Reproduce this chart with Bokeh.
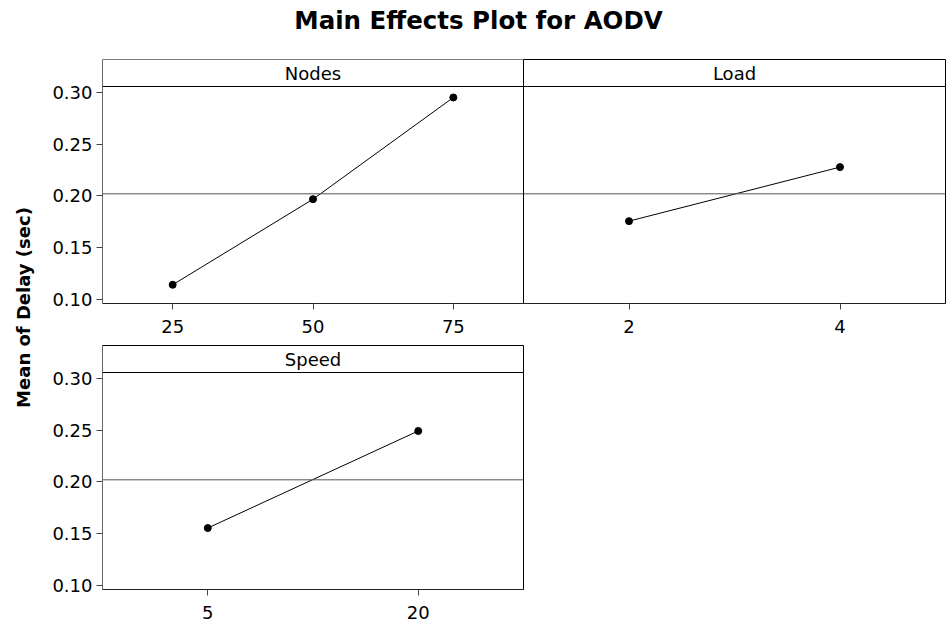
import math
from bokeh.plotting import figure
from bokeh.models import Range1d, FactorRange, Span, Label, FixedTicker, PrintfTickFormatter, ColumnDataSource
from bokeh.layouts import column, row
from bokeh.embed import file_html
from bokeh.resources import INLINE
from bokeh.core.validation import silence
from bokeh.core.validation.warnings import MISSING_RENDERERS

silence(MISSING_RENDERERS, True)

# ---------------- data ----------------
TITLE = "Main Effects Plot for AODV"
Y_LABEL = "Mean of Delay (sec)"
nodes_levels = ["25", "50", "75"]
nodes_means = [0.1142, 0.1969, 0.2952]
load_levels = ["2", "4"]
load_means = [0.1757, 0.2279]
speed_levels = ["5", "20"]
speed_means = [0.1555, 0.2493]
grand_mean = 0.2021
y_ticks = [0.10, 0.15, 0.20, 0.25, 0.30]

# ---------------- styling / geometry ----------------
FONT = "DejaVu Sans"
Y0, Y1, Y_HEAD = 0.0961, 0.3319, 0.3058
FRAME_H = 244
LEFT_W = 38          # width of the y-label strip
TITLE_H = 57
TOP_B, BOT_B1, BOT_B2 = 2, 40, 37


def panel(name, levels, means, width, mbl, mbr, mbb, show_y, outline=True):
    p = figure(x_range=FactorRange(factors=levels), y_range=Range1d(Y0, Y1),
               width=width, height=TOP_B + FRAME_H + mbb,
               output_backend="svg", toolbar_location=None,
               min_border_left=mbl, min_border_right=mbr,
               min_border_top=TOP_B, min_border_bottom=mbb,
               y_axis_location="left" if show_y else None)
    p.xgrid.visible = False
    p.ygrid.visible = False
    p.outline_line_color = "black" if outline else None
    p.outline_line_width = 1
    p.background_fill_color = "white"
    p.border_fill_color = "white"

    xa = p.xaxis[0]
    xa.axis_line_color = "#222222"
    xa.major_tick_out = 6
    xa.major_tick_in = 0
    xa.major_tick_line_color = "#444444"
    xa.major_label_text_font = FONT
    xa.major_label_text_font_size = "18px"
    xa.major_label_text_color = "black"
    xa.major_label_standoff = 10

    if show_y:
        ya = p.yaxis[0]
        ya.ticker = FixedTicker(ticks=y_ticks)
        ya.formatter = PrintfTickFormatter(format="%.2f")
        ya.axis_line_color = "#666666"
        ya.major_tick_out = 6
        ya.major_tick_in = 0
        ya.minor_tick_line_color = None
        ya.major_tick_line_color = "#444444"
        ya.major_label_text_font = FONT
        ya.major_label_text_font_size = "18px"
        ya.major_label_text_color = "black"
        ya.major_label_standoff = 4

    if not outline:
        # top edge only (left = y axis, bottom = x axis, right = neighbour's outline)
        p.add_layout(Span(location=Y1, dimension="width",
                          line_color="black", line_width=1))

    p.add_layout(Span(location=grand_mean, dimension="width",
                      line_color="#555555", line_width=1))
    p.add_layout(Span(location=Y_HEAD, dimension="width",
                      line_color="black", line_width=1))
    p.add_layout(Label(x=len(levels) / 2, y=(Y_HEAD + Y1) / 2, text=name,
                       text_align="center", text_baseline="middle",
                       text_font=FONT, text_font_size="18px", text_color="black"))

    src = ColumnDataSource(dict(level=levels, mean=means))
    p.line(x="level", y="mean", source=src, line_color="black", line_width=1)
    p.scatter(x="level", y="mean", source=src, size=7, fill_color="black",
              line_color="black")
    return p


p_nodes = panel("Nodes", nodes_levels, nodes_means, 64 + 421, 64, 0, BOT_B1, True,
                outline=False)
p_load = panel("Load", load_levels, load_means, 422 + 2, 0, 2, BOT_B1, False)
p_speed = panel("Speed", speed_levels, speed_means, 64 + 421 + 1, 64, 1, BOT_B2, True)

TOTAL_W = LEFT_W + p_nodes.width + p_load.width
ROWS_H = p_nodes.height + p_speed.height

# title strip
t_fig = figure(width=TOTAL_W, height=TITLE_H, x_range=Range1d(0, TOTAL_W),
               y_range=Range1d(0, TITLE_H), output_backend="svg",
               toolbar_location=None, min_border=0,
               x_axis_location=None, y_axis_location=None)
t_fig.grid.visible = False
t_fig.outline_line_color = None
t_fig.add_layout(Label(x=478, y=TITLE_H - 20, text=TITLE, text_align="center",
                       text_baseline="alphabetic", text_font=FONT,
                       text_font_style="bold", text_font_size="24.5px",
                       text_color="black"))

# y-label strip
l_fig = figure(width=LEFT_W, height=ROWS_H, x_range=Range1d(0, LEFT_W),
               y_range=Range1d(0, ROWS_H), output_backend="svg",
               toolbar_location=None, min_border=0,
               x_axis_location=None, y_axis_location=None)
l_fig.grid.visible = False
l_fig.outline_line_color = None
l_fig.add_layout(Label(x=23, y=ROWS_H - 250, text=Y_LABEL, angle=math.pi / 2,
                       text_align="center", text_baseline="middle",
                       text_font=FONT, text_font_style="bold",
                       text_font_size="18px", text_color="black"))

layout = column(t_fig, row(l_fig, column(row(p_nodes, p_load), p_speed)))

open("out.html", "w").write(file_html(layout, INLINE))
